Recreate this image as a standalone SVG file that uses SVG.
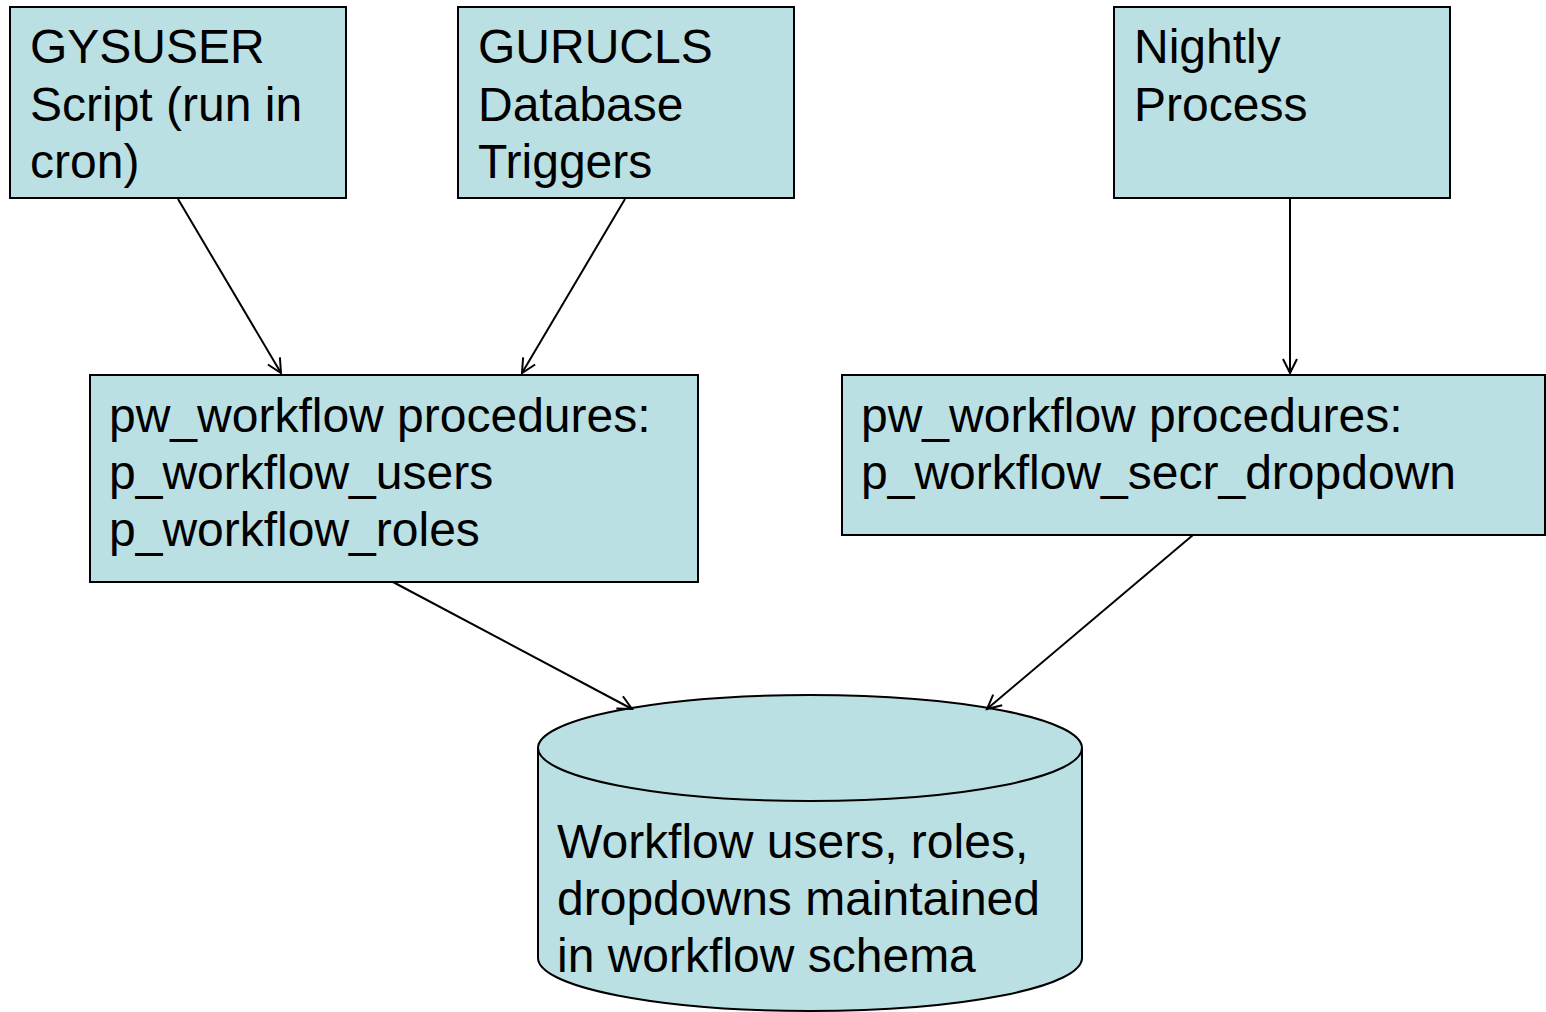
<svg xmlns="http://www.w3.org/2000/svg" width="1546" height="1012" viewBox="0 0 1546 1012">
<style>
.box{fill:#BBE0E3;stroke:#000;stroke-width:2}
.t{font-family:"Liberation Sans",Arial,sans-serif;font-size:48px;fill:#000}
.c{fill:none;stroke:#000;stroke-width:2}
</style>
<defs>
<marker id="arr" markerWidth="20" markerHeight="20" refX="16" refY="8" orient="auto" markerUnits="userSpaceOnUse" viewBox="0 0 20 16">
<path d="M2,1 L16,8 L2,15" fill="none" stroke="#000" stroke-width="2"/>
</marker>
</defs>
<rect width="1546" height="1012" fill="#fff"/>
<g id="gysuser">
<rect class="box" x="10" y="7" width="336" height="191"/>
<text class="t"><tspan x="30" y="63">GYSUSER</tspan><tspan x="30" y="121">Script (run in</tspan><tspan x="30" y="178">cron)</tspan></text>
</g>
<g id="gurucls">
<rect class="box" x="458" y="7" width="336" height="191"/>
<text class="t"><tspan x="478" y="63">GURUCLS</tspan><tspan x="478" y="121">Database</tspan><tspan x="478" y="178">Triggers</tspan></text>
</g>
<g id="nightly">
<rect class="box" x="1114" y="7" width="336" height="191"/>
<text class="t"><tspan x="1134" y="63">Nightly</tspan><tspan x="1134" y="121">Process</tspan></text>
</g>
<g id="pw-left">
<rect class="box" x="90" y="375" width="608" height="207"/>
<text class="t"><tspan x="109" y="432">pw_workflow procedures:</tspan><tspan x="109" y="489">p_workflow_users</tspan><tspan x="109" y="546">p_workflow_roles</tspan></text>
</g>
<g id="pw-right">
<rect class="box" x="842" y="375" width="703" height="160"/>
<text class="t"><tspan x="861" y="432">pw_workflow procedures:</tspan><tspan x="861" y="489">p_workflow_secr_dropdown</tspan></text>
</g>
<g id="db">
<path class="box" d="M538,748 L538,958 A272,53 0 0 0 1082,958 L1082,748 A272,53 0 0 0 538,748 Z"/>
<path class="box" d="M538,748 A272,53 0 0 0 1082,748" fill="none"/>
<text class="t"><tspan x="557" y="858">Workflow users, roles,</tspan><tspan x="557" y="915">dropdowns maintained</tspan><tspan x="557" y="972">in workflow schema</tspan></text>
</g>
<g id="connectors">
<line class="c" x1="178" y1="199" x2="281" y2="373" marker-end="url(#arr)"/>
<line class="c" x1="625" y1="199" x2="522" y2="373" marker-end="url(#arr)"/>
<line class="c" x1="1290" y1="199" x2="1290" y2="373" marker-end="url(#arr)"/>
<line class="c" x1="393" y1="582" x2="632" y2="709" marker-end="url(#arr)"/>
<line class="c" x1="1193" y1="535" x2="987" y2="709" marker-end="url(#arr)"/>
</g>
</svg>
